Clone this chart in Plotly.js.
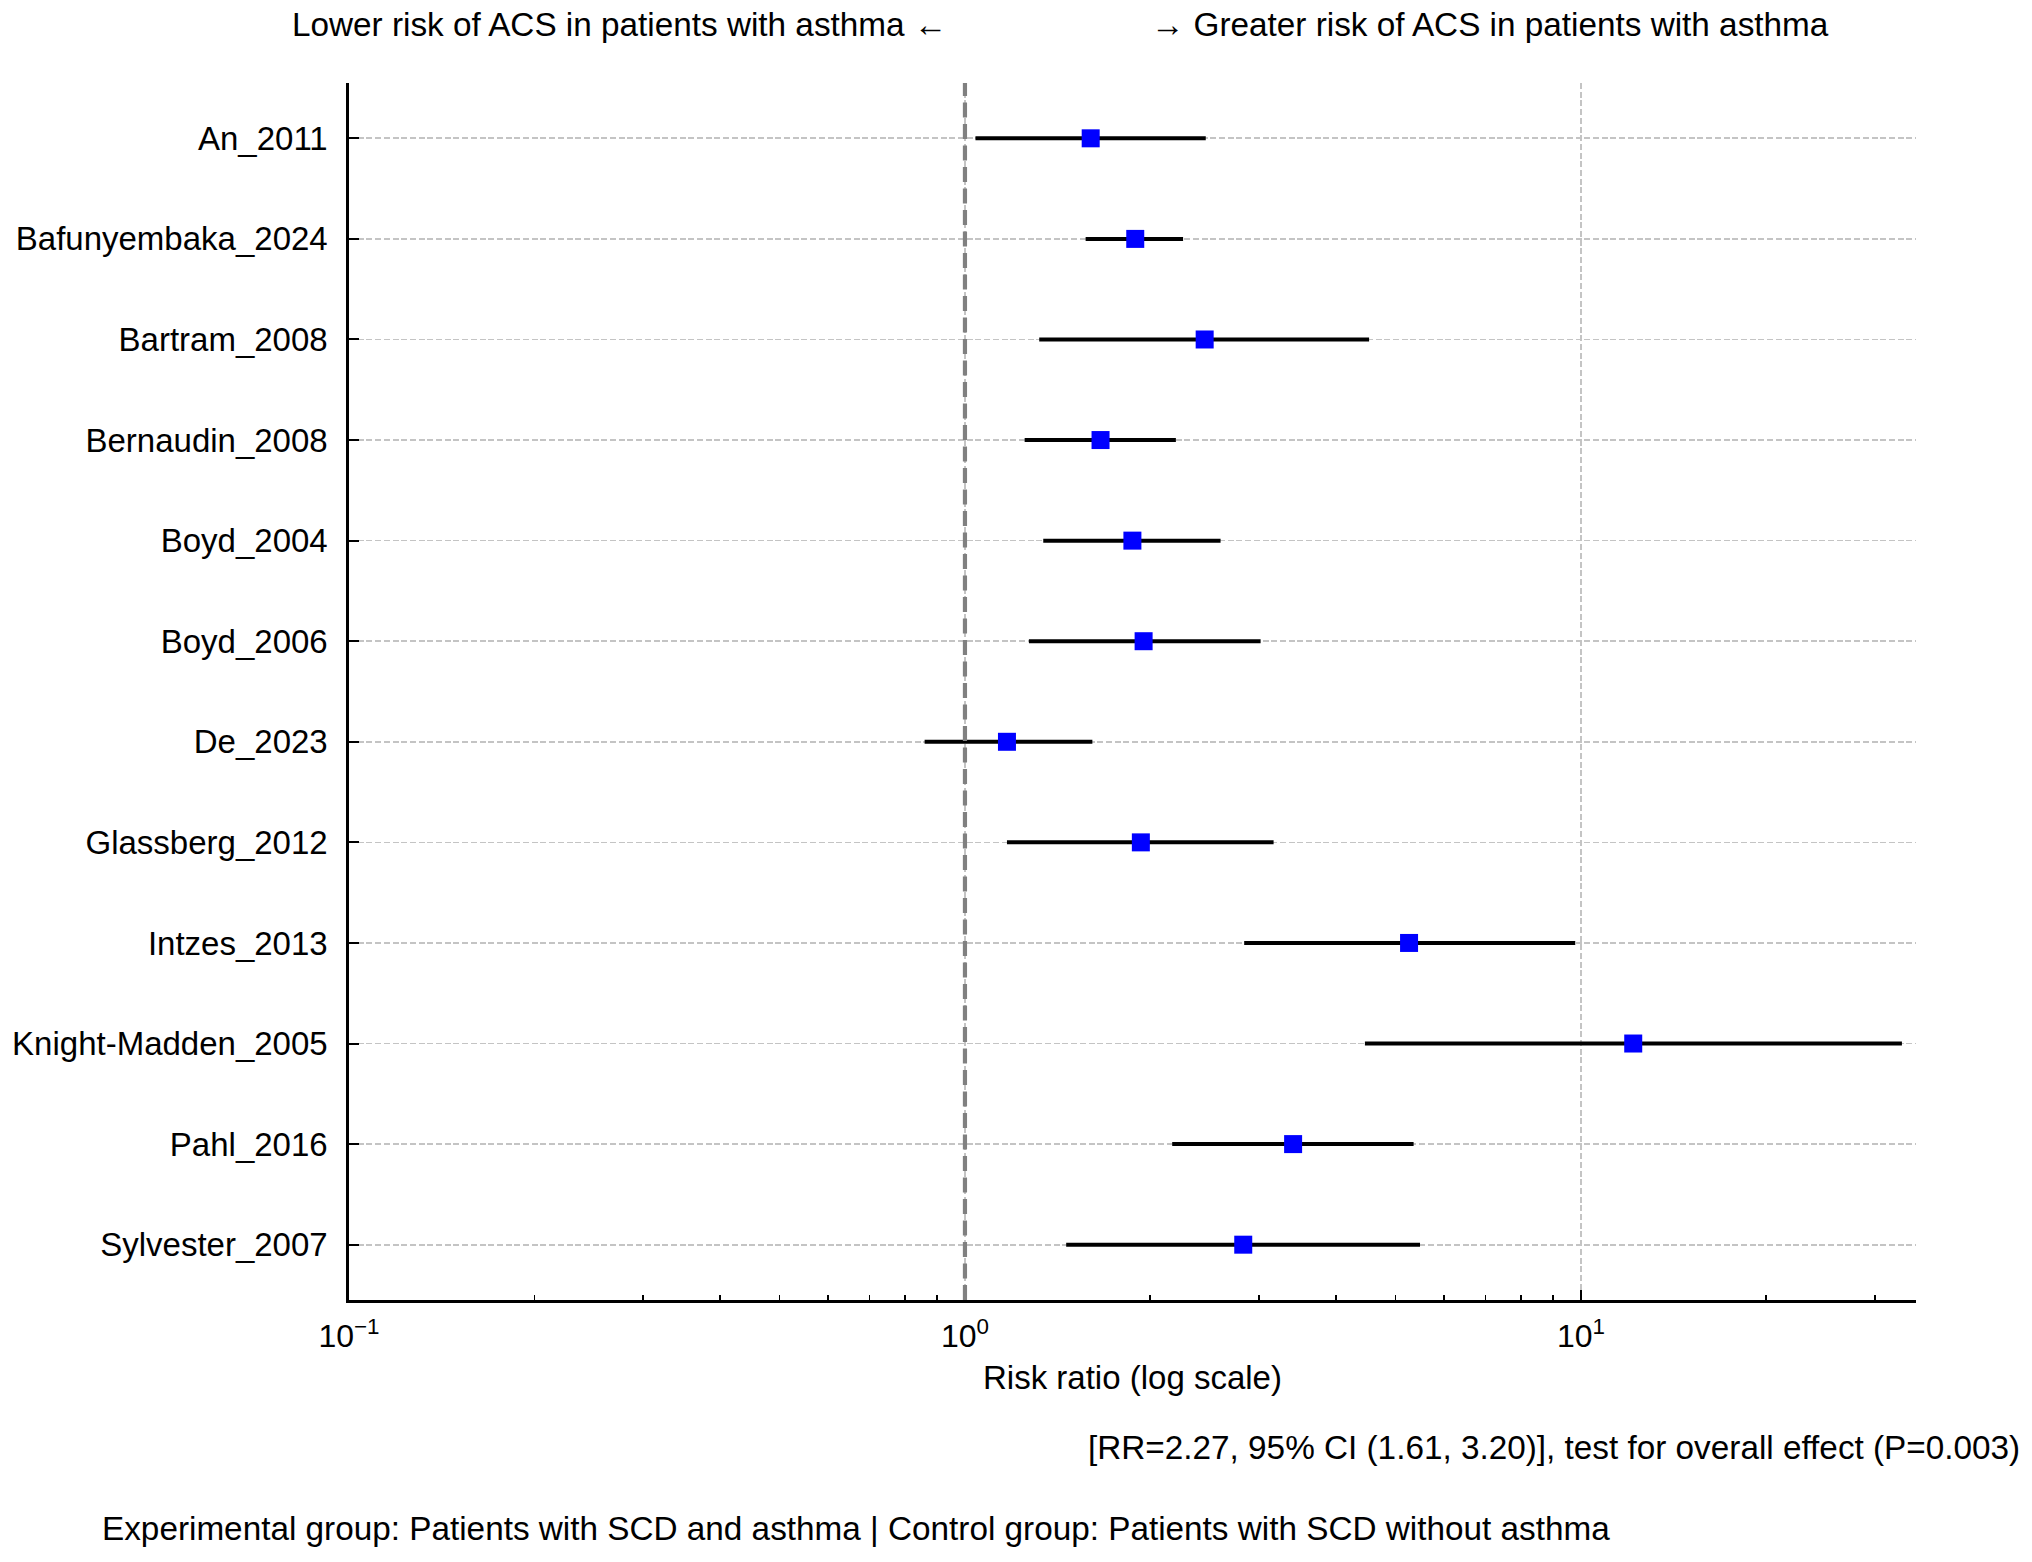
<!DOCTYPE html>
<html>
<head>
<meta charset="utf-8">
<script src="https://cdn.plot.ly/plotly-3.0.1.min.js"></script>
<style>html,body{margin:0;padding:0;background:#fff;}#chart{width:2032px;height:1562px;}</style>
</head>
<body>
<div id="chart"></div>
<script>
// Study labels (top to bottom)
var studies = ["An_2011","Bafunyembaka_2024","Bartram_2008","Bernaudin_2008","Boyd_2004","Boyd_2006","De_2023","Glassberg_2012","Intzes_2013","Knight-Madden_2005","Pahl_2016","Sylvester_2007"];
// Risk ratios and 95% CI
var rr    = [1.60, 1.89, 2.45, 1.66, 1.87, 1.95, 1.17, 1.93, 5.26, 12.16, 3.41, 2.83];
var ciLow = [1.04, 1.57, 1.32, 1.25, 1.34, 1.27, 0.86, 1.17, 2.84, 4.46, 2.17, 1.46];
var ciHigh= [2.46, 2.26, 4.53, 2.20, 2.60, 3.02, 1.61, 3.17, 9.79, 33.2, 5.35, 5.48];
// Axis tick labels
var xTickVals = [0.1, 1, 10];
var xTickText = ["10<sup>\u22121</sup>", "10<sup>0</sup>", "10<sup>1</sup>"];
// Text
var leftNote = "Lower risk of ACS in patients with asthma \u2190";
var rightNote = "\u2192 Greater risk of ACS in patients with asthma";
var summaryText = "[RR=2.27, 95% CI (1.61, 3.20)], test for overall effect (P=0.003)";
var footerText = "Experimental group: Patients with SCD and asthma | Control group: Patients with SCD without asthma";
var xTitle = "Risk ratio (log scale)";

var minorVals = [];
[0.1, 1, 10].forEach(function(d){ for (var k = 2; k <= 9; k++) { var v = d * k; if (v <= 35) minorVals.push(v); } });

var errPlus = rr.map(function(v,i){ return ciHigh[i] - v; });
var errMinus = rr.map(function(v,i){ return v - ciLow[i]; });

var FONT = "Liberation Sans, Arial, Helvetica, sans-serif";

var traces = [{
  type: "scatter",
  mode: "markers",
  x: rr,
  y: studies,
  marker: {symbol: "square", size: 18, color: "#0000ff", line: {width: 0}},
  error_x: {type: "data", symmetric: false, array: errPlus, arrayminus: errMinus, color: "#000000", thickness: 4, width: 0},
  showlegend: false,
  hoverinfo: "x+y"
}];

var layout = {
  width: 2032, height: 1562,
  margin: {l: 349, r: 116, t: 83, b: 262, pad: 0},
  paper_bgcolor: "#ffffff", plot_bgcolor: "#ffffff",
  font: {family: FONT, size: 33, color: "#000000"},
  showlegend: false,
  xaxis: {
    type: "log",
    range: [-1, 1.544],
    tickmode: "array", tickvals: xTickVals, ticktext: xTickText,
    ticks: "inside", ticklen: 10, tickwidth: 2, tickcolor: "#000",
    showline: true, linewidth: 2.7, linecolor: "#000",
    showgrid: true, gridcolor: "#c4c4c4", gridwidth: 1.7, griddash: "6px,2.7px",
    zeroline: false,
    tickfont: {family: FONT, size: 32, color: "#000"},
    ticklabelstandoff: 6,
    minor: {tickmode: "array", tickvals: minorVals, ticks: "inside", ticklen: 5, tickwidth: 1.8, tickcolor: "#000", showgrid: false},
    title: {text: xTitle, font: {family: FONT, size: 33, color: "#000"}, standoff: 13}
  },
  yaxis: {
    type: "category",
    categoryorder: "array", categoryarray: studies,
    range: [11.55, -0.55],
    ticks: "inside", ticklen: 10, tickwidth: 2, tickcolor: "#000",
    showline: true, linewidth: 2.7, linecolor: "#000",
    showgrid: true, gridcolor: "#c4c4c4", gridwidth: 1.7, griddash: "6px,2.7px",
    zeroline: false,
    tickfont: {family: FONT, size: 33, color: "#000"},
    ticklabelstandoff: 12
  },
  shapes: [{
    type: "line", xref: "x", yref: "paper",
    x0: 1, x1: 1, y0: 0, y1: 1,
    line: {color: "#808080", width: 4.2, dash: "15px,6.5px"}
  }],
  annotations: [
    {xref: "paper", yref: "paper", x: 0.3826, y: 1.0477, xanchor: "right", yanchor: "middle", text: leftNote, showarrow: false, font: {family: FONT, size: 33.3, color: "#000"}},
    {xref: "paper", yref: "paper", x: 0.5104, y: 1.0477, xanchor: "left", yanchor: "middle", text: rightNote, showarrow: false, font: {family: FONT, size: 33.3, color: "#000"}},
    {xref: "paper", yref: "paper", x: 1.0676, y: -0.1213, xanchor: "right", yanchor: "middle", text: summaryText, showarrow: false, font: {family: FONT, size: 33.3, color: "#000"}},
    {xref: "paper", yref: "paper", x: -0.1590, y: -0.1878, xanchor: "left", yanchor: "middle", text: footerText, showarrow: false, font: {family: FONT, size: 33.3, color: "#000"}}
  ]
};

Plotly.newPlot("chart", traces, layout, {displayModeBar: false, staticPlot: true});
</script>
</body>
</html>
